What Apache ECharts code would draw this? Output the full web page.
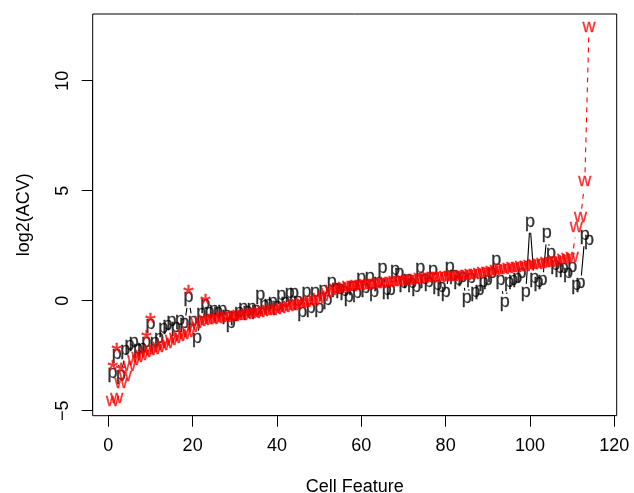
<!DOCTYPE html>
<html><head><meta charset="utf-8">
<script src="https://cdn.jsdelivr.net/npm/echarts@6/dist/echarts.min.js"></script>
<style>html,body{margin:0;padding:0;background:#fff}#c{width:634px;height:493px}</style>
</head><body><div id="c"></div>
<script>
// ---- data (index 1..n is the Cell Feature) ----
const pValues = [
-3.38, -2.5, -3.45, -2.3, -2.1, -1.94, -2.25, -2.2, -1.94, -1.15,
-1.94, -1.79, -1.33, -1.18, -1.0, -1.26, -0.95, -1.1, 0.1, -1.0,
-1.79, -0.65, -0.2, -0.57, -0.5, -0.6, -0.5, -0.7, -1.1, -0.75,
-0.6, -0.42, -0.55, -0.42, -0.5, 0.18, -0.27, -0.2, -0.12, -0.3,
0.18, -0.12, 0.26, 0.26, -0.1, -0.57, 0.33, -0.42, 0.33, -0.42,
0.41, -0.05, 0.79, 0.5, 0.45, 0.35, 0.1, 0.6, 0.26, 0.94,
0.5, 1.02, 0.33, 0.8, 1.4, 0.41, 0.41, 1.32, 1.17, 0.71,
0.9, 0.75, 0.56, 1.4, 0.9, 0.79, 1.32, 0.64, 0.56, 0.33,
1.47, 1.1, 0.86, 1.0, 0.03, 0.94, 0.33, 0.41, 0.79, 0.86,
1.2, 1.77, 0.86, -0.12, 0.79, 0.86, 0.94, 1.17, 0.33, 3.52,
0.94, 0.79, 0.86, 2.99, 2.08, 1.55, 1.4, 1.4, 1.17, 1.47,
0.64, 0.71, 2.91, 2.68
];
const wValues = [
-4.6, -4.45, -3.8, -3.45, -3.0, -2.75, -2.6, -2.5, -2.4, -2.3,
-2.25, -2.15, -2.05, -1.95, -1.85, -1.75, -1.65, -1.55, -1.45, -1.25,
-1.05, -0.98, -0.93, -0.9, -0.87, -0.84, -0.81, -0.78, -0.76, -0.74,
-0.72, -0.69, -0.66, -0.63, -0.6, -0.57, -0.53, -0.49, -0.45, -0.41,
-0.37, -0.33, -0.29, -0.25, -0.21, -0.17, -0.12, -0.07, -0.01, 0.07,
0.18, 0.3, 0.42, 0.5, 0.55, 0.58, 0.61, 0.63, 0.65, 0.67,
0.69, 0.71, 0.73, 0.75, 0.77, 0.79, 0.81, 0.83, 0.85, 0.87,
0.89, 0.91, 0.94, 0.97, 0.99, 1.01, 1.03, 1.04, 1.05, 1.06,
1.07, 1.08, 1.09, 1.1, 1.12, 1.15, 1.18, 1.21, 1.24, 1.27,
1.3, 1.33, 1.37, 1.4, 1.43, 1.46, 1.49, 1.52, 1.55, 1.58,
1.61, 1.64, 1.67, 1.7, 1.73, 1.77, 1.81, 1.85, 1.89, 1.95,
3.3, 3.75, 5.4, 12.4
];
const starX = [1, 2, 3, 9, 10, 19, 23];
const starY = [-2.92, -2.16, -3.03, -1.56, -0.8, 0.49, 0.1];
const xTicks = [0, 20, 40, 60, 80, 100, 120];
const yTicks = [-5, 0, 5, 10];

// ---- build ----
const FONT = "'Liberation Sans', Arimo, Helvetica, Arial, sans-serif";
const GAP = 9.5;
const pPts = pValues.map((v, i) => [i + 1, v]);
const wPts = wValues.map((v, i) => [i + 1, v]);
const sPts = starX.map((x, i) => [x, starY[i]]);

function segSeries(pts, color, dash, z) {
  const data = [];
  for (let i = 0; i < pts.length - 1; i++) data.push([pts[i][0], pts[i][1], pts[i + 1][0], pts[i + 1][1]]);
  return {
    type: 'custom', xAxisIndex: 0, yAxisIndex: 0, data, silent: true, z,
    encode: { x: [0, 2], y: [1, 3] },
    renderItem(params, api) {
      const a = api.coord([api.value(0), api.value(1)]);
      const b = api.coord([api.value(2), api.value(3)]);
      const dx = b[0] - a[0], dy = b[1] - a[1], d = Math.hypot(dx, dy);
      if (d <= 2 * GAP) return { type: 'group', children: [] };
      const f = GAP / d;
      return {
        type: 'line',
        shape: { x1: a[0] + dx * f, y1: a[1] + dy * f, x2: b[0] - dx * f, y2: b[1] - dy * f },
        style: { stroke: color, lineWidth: 1.1, lineDash: dash, fill: null }
      };
    }
  };
}
function glyphSeries(pts, ch, color, size, dy, z) {
  return {
    type: 'scatter', xAxisIndex: 0, yAxisIndex: 0, data: pts, silent: true, z,
    symbol: 'circle', symbolSize: 1, itemStyle: { color: 'rgba(0,0,0,0)' },
    label: { show: true, position: 'inside', formatter: ch, color, fontSize: size,
      fontFamily: FONT, offset: [0, dy], textBorderColor: color, textBorderWidth: 0.3 },
    emphasis: { disabled: true }
  };
}
const minusFmt = v => (v < 0 ? '\u2212' + Math.abs(v) : String(v));

const chart = echarts.init(document.getElementById('c'), null, { renderer: 'canvas' });
chart.setOption({
  animation: false,
  backgroundColor: '#fff',
  textStyle: { fontFamily: FONT },
  grid: [
    { left: 92.7, right: 17.3, top: 14, bottom: 77.3, show: true, borderColor: '#000', borderWidth: 1,
      backgroundColor: 'transparent', containLabel: false, outerBoundsMode: 'none' },
    { left: 108.3, right: 19.7, top: 80.7, bottom: 82.3, containLabel: false, outerBoundsMode: 'none' }
  ],
  xAxis: [
    { gridIndex: 0, type: 'value', min: -3.72, max: 120.57, axisLine: { show: false, onZero: false }, axisTick: { show: false },
      axisLabel: { show: false }, splitLine: { show: false },
      name: 'Cell Feature', nameLocation: 'middle', nameGap: 62,
      nameTextStyle: { fontSize: 18, color: '#000', fontFamily: FONT } },
    { gridIndex: 1, type: 'value', min: 0, max: 120, interval: 20, offset: 5, position: 'bottom',
      axisLine: { show: true, onZero: false, lineStyle: { color: '#000', width: 1 } },
      axisTick: { show: true, length: 11, lineStyle: { color: '#000' } },
      axisLabel: { fontSize: 18, color: '#000', margin: 21, fontFamily: FONT,
        customValues: xTicks },
      splitLine: { show: false } }
  ],
  yAxis: [
    { gridIndex: 0, type: 'value', min: -5.23, max: 13.03, axisLine: { show: false, onZero: false }, axisTick: { show: false },
      axisLabel: { show: false }, splitLine: { show: false },
      name: 'log2(ACV)', nameLocation: 'middle', nameGap: 60, nameRotate: 90,
      nameTextStyle: { fontSize: 18, color: '#000', fontFamily: FONT } },
    { gridIndex: 1, type: 'value', min: -5, max: 10, interval: 5, offset: 15.6, position: 'left',
      axisLine: { show: true, onZero: false, lineStyle: { color: '#000', width: 1 } },
      axisTick: { show: true, length: 11, lineStyle: { color: '#000' } },
      axisLabel: { fontSize: 18, color: '#000', rotate: 90, margin: 21, fontFamily: FONT,
        formatter: minusFmt, customValues: yTicks },
      splitLine: { show: false } }
  ],
  series: [
    segSeries(pPts, '#000000', null, 1),
    glyphSeries(pPts, 'p', '#000000', 18, -1.5, 2),
    segSeries(wPts, '#ff0000', [5, 5], 3),
    glyphSeries(wPts, 'w', '#ff0000', 18, -1, 4),
    glyphSeries(sPts, '*', '#ff0000', 28, 6.5, 5),
    { type: 'scatter', xAxisIndex: 1, yAxisIndex: 1, data: [], silent: true }
  ]
});
</script></body></html>
